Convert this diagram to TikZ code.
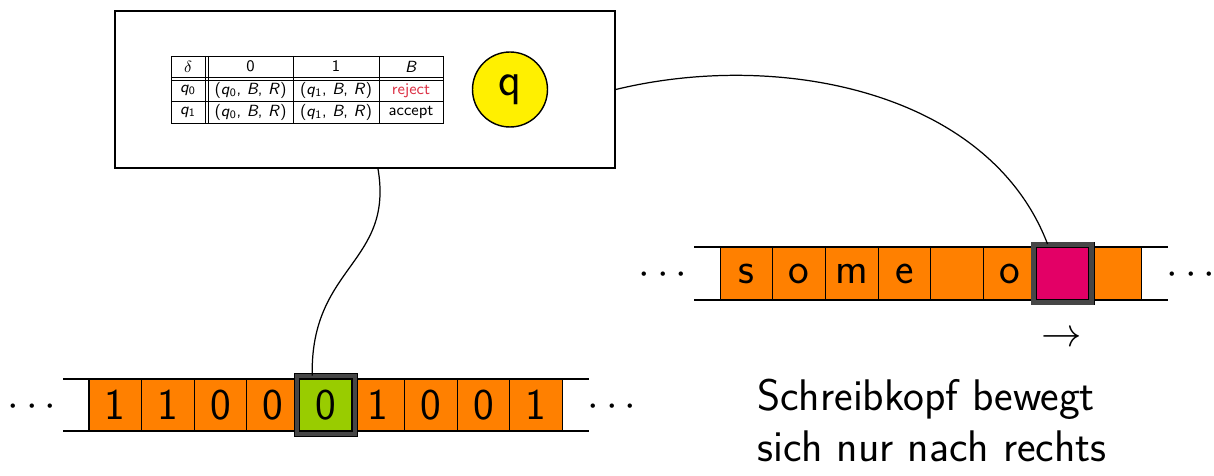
\RequirePackage{fix-cm}
\documentclass[tikz,border=0pt]{standalone}
\usepackage{xcolor}
\definecolor{tapeorange}{RGB}{255,128,0}
\definecolor{headgreen}{RGB}{153,204,0}
\definecolor{headmag}{RGB}{227,0,102}
\definecolor{stateyellow}{RGB}{255,240,0}
\definecolor{rejred}{RGB}{220,50,70}
\definecolor{framegray}{RGB}{70,70,70}
\newcommand{\bigfont}{\fontsize{25}{30}\selectfont\sffamily}
\newcommand{\tabfont}{\fontsize{9.2}{11}\selectfont\sffamily}
\newcommand{\qsub}[1]{\textit{q}\textsubscript{#1}}
\tikzset{
  cell/.style={draw=black, line width=0.6pt, fill=tapeorange, minimum width=1.052cm,
    minimum height=1.04cm, inner sep=0pt, font=\bigfont},
  headframe/.style={draw=black, line width=0.5pt, double=framegray, double distance=2.4pt,
    minimum width=1.16cm, minimum height=1.16cm, inner sep=0pt},
  tapeline/.style={line width=0.9pt},
  tabline/.style={line width=0.5pt},
  tabtext/.style={font=\tabfont, inner sep=0pt},
  dotsnode/.style={font=\fontsize{23.6}{28}\selectfont, inner sep=0pt},
  wire/.style={line width=0.7pt},
  caption/.style={anchor=base west, inner sep=0pt, font=\fontsize{25.2}{30}\selectfont\sffamily},
}
\begin{document}
\begin{tikzpicture}[x=0.02cm, y=-0.02cm]
\useasboundingbox (0,0) rectangle (1214,476);

% control unit
\node[draw, line width=0.9pt, minimum width=10cm, minimum height=3.14cm, inner sep=0pt] (ctrl) at (365,89.5) {};

% transition table
\draw[tabline] (171,56) rectangle (443,123);
\draw[tabline] (171,77) -- (443,77);
\draw[tabline] (171,80) -- (443,80);
\draw[tabline] (171,101) -- (443,101);
\draw[tabline] (205,56) -- (205,123);
\draw[tabline] (208,56) -- (208,123);
\draw[tabline] (293,56) -- (293,123);
\draw[tabline] (379,56) -- (379,123);
\node[tabtext] (h0) at (188,66.5) {$\delta$};
\node[tabtext] (h1) at (250.5,66.5) {0};
\node[tabtext] (h2) at (336,66.5) {1};
\node[tabtext] (h3) at (411,66.5) {\textit{B}};
\node[tabtext] (r00) at (188,90.5) {\qsub{0}};
\node[tabtext] (r01) at (250.5,90.5) {(\qsub{0}, \textit{B}, \textit{R})};
\node[tabtext] (r02) at (336,90.5) {(\qsub{1}, \textit{B}, \textit{R})};
\node[tabtext, text=rejred] (r03) at (411,90.5) {reject};
\node[tabtext] (r10) at (188,112) {\qsub{1}};
\node[tabtext] (r11) at (250.5,112) {(\qsub{0}, \textit{B}, \textit{R})};
\node[tabtext] (r12) at (336,112) {(\qsub{1}, \textit{B}, \textit{R})};
\node[tabtext] (r13) at (411,112) {accept};

% state
\node[circle, draw, line width=0.8pt, fill=stateyellow, minimum size=1.5cm, inner sep=0pt, font=\fontsize{27}{32}\selectfont\sffamily] (q) at (510,89.5) {q};

% lower tape
\draw[tapeline] (63,379) -- (589,379);
\draw[tapeline] (63,431) -- (589,431);
\foreach \t [count=\i from 0] in {1,1,0,0,0,1,0,0,1}
  \node[cell] (a\i) at ({89+52.6*(\i+0.5)},405) {\t};
\node[cell, fill=headgreen] (ag) at (a4) {0};
\node[headframe] (hd1) at (a4) {};
\node[dotsnode] (ld1) at (32,407) {$\cdots$};
\node[dotsnode] (ld2) at (612,407) {$\cdots$};

% upper tape
\draw[tapeline] (694,247) -- (1168,247);
\draw[tapeline] (694,300) -- (1168,300);
\foreach \t [count=\i from 0] in {s,o,m,e,{},o,{},{}}
  \node[cell] (b\i) at ({720+52.7*(\i+0.5)},273.5) {\t};
\node[cell, fill=headmag] (bm) at (b6) {};
\node[headframe] (hd2) at (b6) {};
\node[dotsnode] (ud1) at (663,275) {$\cdots$};
\node[dotsnode] (ud2) at (1191,275) {$\cdots$};

% arrow and caption
\node[inner sep=0pt, font=\fontsize{23}{28}\selectfont] (arr) at (1062,339) {$\rightarrow$};
\node[caption] (s1) at (757,410.7) {Schreibkopf bewegt};
\node[caption] (s2) at (757,461.7) {sich nur nach rechts};

% wires
\draw[wire] ([xshift=0.26cm]ctrl.south) .. controls +(16,95) and +(-2,-110) .. ([xshift=-0.27cm]hd1.north);
\draw[wire] (ctrl.east) .. controls +(165,-40) and +(-58,-152) .. ([xshift=-0.3cm]hd2.north);
\end{tikzpicture}
\end{document}
